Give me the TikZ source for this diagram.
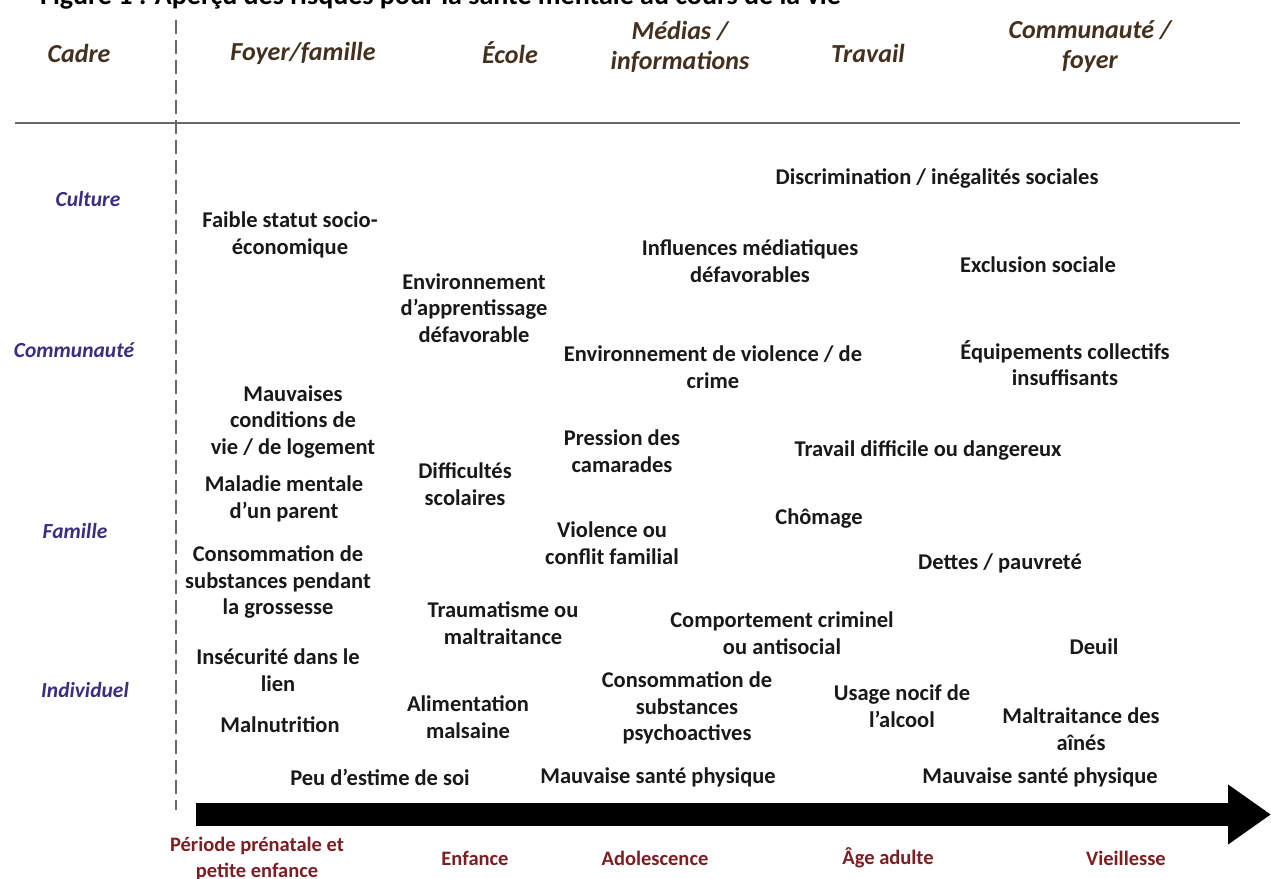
\documentclass[tikz,border=0pt]{standalone}
\usepackage{fontspec}
\setmainfont{Carlito}
\usetikzlibrary{arrows.meta}
\definecolor{hdr}{RGB}{68,48,30}
\definecolor{lvl}{RGB}{55,48,130}
\definecolor{agec}{RGB}{125,30,35}
\definecolor{txt}{RGB}{25,25,25}
\definecolor{rule}{RGB}{105,105,105}
\tikzset{
  risk/.style={font=\bfseries\fontsize{22.5}{26.5}\selectfont, text=txt, align=center, inner sep=0pt},
  hdrlab/.style={font=\bfseries\itshape\fontsize{26}{30}\selectfont, text=hdr, align=center, inner sep=0pt},
  lvllab/.style={font=\bfseries\itshape\fontsize{21.5}{25}\selectfont, text=lvl, inner sep=0pt},
  agelab/.style={font=\bfseries\fontsize{20.5}{26}\selectfont, text=agec, align=center, inner sep=0pt},
  titlelab/.style={font=\bfseries\fontsize{28}{32}\selectfont, text=black, inner sep=0pt},
}
\begin{document}
\begin{tikzpicture}[x=1pt,y=-1pt]
\useasboundingbox (0,0) rectangle (1271,878);
\fill[white] (0,0) rectangle (1271,878);

% title (cut off at the top edge, as in the reference)
\node[titlelab, anchor=base west] (title) at (40,5) {Figure 1 : Aperçu des risques pour la santé mentale au cours de la vie};

% frame lines
\coordinate (dtop) at (176,20);
\coordinate (dbot) at (176,810);
\draw[rule, line width=1.3pt, dash pattern=on 14pt off 6pt] (dtop) -- (dbot);
\coordinate (hl) at (15,123);
\coordinate (hr) at (1240,123);
\draw[rule, line width=2pt] (hl) -- (hr);

% headers
\node[hdrlab] (cadre) at (79,53) {Cadre};
\node[hdrlab] (foyer) at (303,53) {Foyer/famille};
\node[hdrlab] (ecole) at (510,53) {École};
\node[hdrlab] (medias) at (680,47) {Médias /\\informations};
\node[hdrlab] (travail) at (868,53) {Travail};
\node[hdrlab] (commf) at (1090,47) {Communauté /\\foyer};

% levels
\node[lvllab] (culture) at (88,199) {Culture};
\node[lvllab] (communaute) at (74,350) {Communauté};
\node[lvllab] (famille) at (75,531) {Famille};
\node[lvllab] (individuel) at (85,690) {Individuel};

% risks
\node[risk] (r1) at (290,235) {Faible statut socio-\\économique};
\node[risk] (r2) at (474,308) {Environnement\\d’apprentissage\\défavorable};
\node[risk] (r3) at (750,261) {Influences médiatiques\\défavorables};
\node[risk] (r4) at (937,178) {Discrimination / inégalités sociales};
\node[risk] (r5) at (1038,265) {Exclusion sociale};
\node[risk] (r6) at (713,367) {Environnement de violence / de\\crime};
\node[risk] (r7) at (1065,363) {Équipements collectifs\\insuffisants};
\node[risk] (r8) at (293,422) {Mauvaises\\conditions de\\vie / de logement};
\node[risk] (r9) at (622,451) {Pression des\\camarades};
\node[risk] (r10) at (928,450) {Travail difficile ou dangereux};
\node[risk] (r11) at (465,484) {Difficultés\\scolaires};
\node[risk] (r12) at (284,499) {Maladie mentale\\d’un parent};
\node[risk] (r13) at (612,543) {Violence ou\\conflit familial};
\node[risk] (r14) at (819,519) {Chômage};
\node[risk] (r15) at (278,582) {Consommation de\\substances pendant\\la grossesse};
\node[risk] (r16) at (1000,563) {Dettes / pauvreté};
\node[risk] (r17) at (503,623) {Traumatisme ou\\maltraitance};
\node[risk] (r18) at (782,633) {Comportement criminel\\ou antisocial};
\node[risk] (r19) at (1094,647) {Deuil};
\node[risk] (r20) at (278,670) {Insécurité dans le\\lien};
\node[risk] (r21) at (687,708) {Consommation de\\substances\\psychoactives};
\node[risk] (r22) at (902,706) {Usage nocif de\\l’alcool};
\node[risk] (r23) at (468,717) {Alimentation\\malsaine};
\node[risk] (r24) at (280,725) {Malnutrition};
\node[risk] (r25) at (1081,729) {Maltraitance des\\aînés};
\node[risk] (r26) at (380,777) {Peu d’estime de soi};
\node[risk] (r27) at (658,777) {Mauvaise santé physique};
\node[risk] (r28) at (1040,777) {Mauvaise santé physique};

% timeline arrow
\coordinate (astart) at (196,814.5);
\coordinate (aend) at (1271,814.5);
\draw[black, line width=23pt, -{Triangle[length=43pt, width=57pt]}] (astart) -- (aend);

% ages
\node[agelab] (a1) at (257,859) {Période prénatale et\\petite enfance};
\node[agelab] (a2) at (475,858) {Enfance};
\node[agelab] (a3) at (655,858) {Adolescence};
\node[agelab] (a4) at (888,858) {Âge adulte};
\node[agelab] (a5) at (1126,858) {Vieillesse};
\end{tikzpicture}
\end{document}
